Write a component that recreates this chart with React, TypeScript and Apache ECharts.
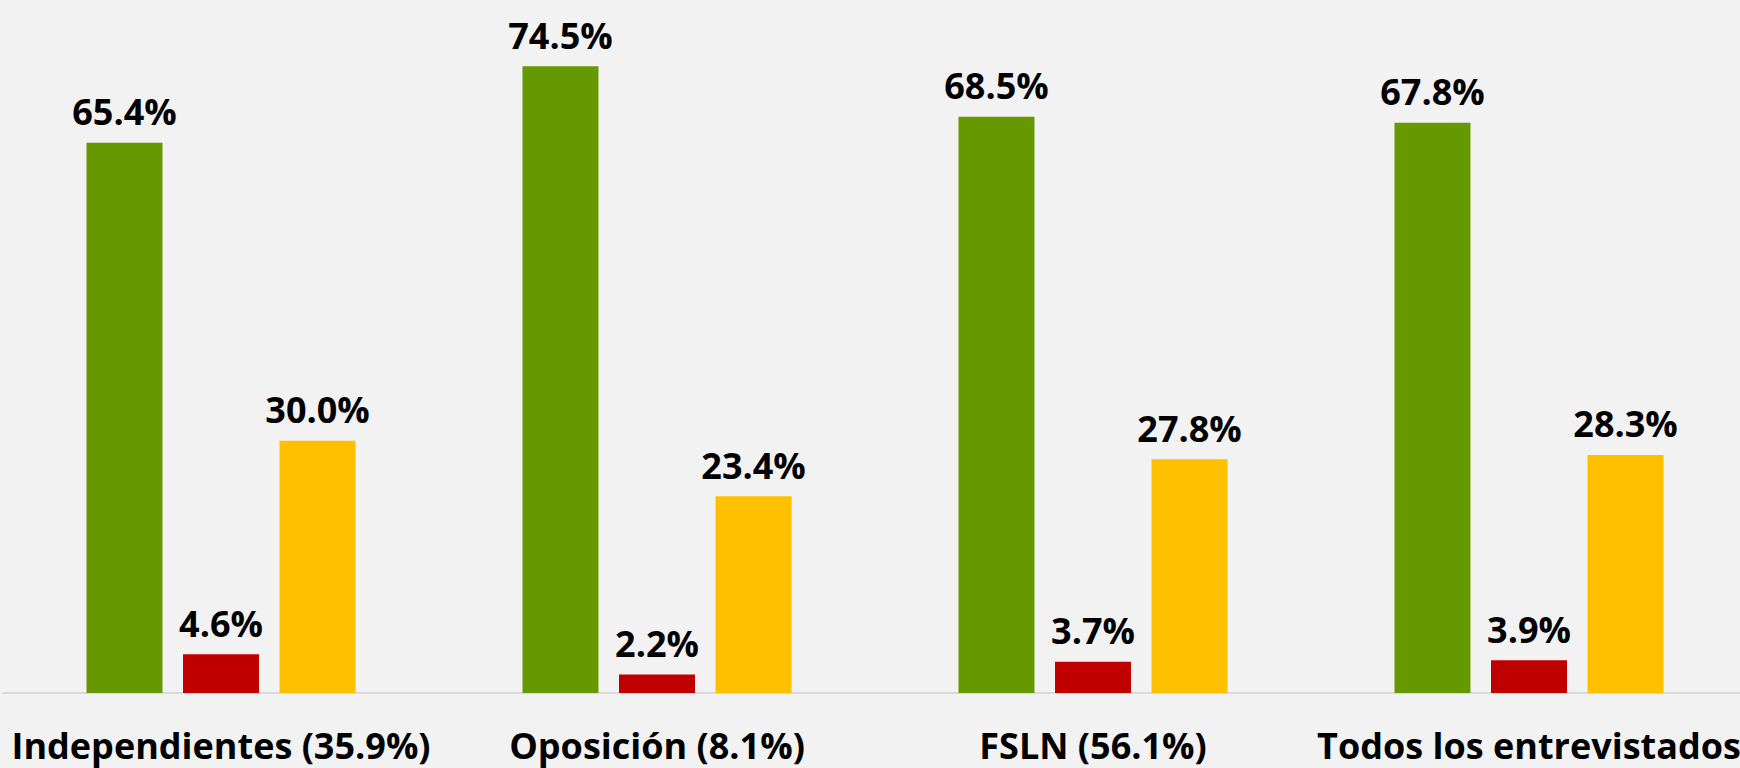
import React, { useEffect, useRef } from "react";
import * as echarts from "echarts";

const categories = ["Independientes (35.9%)", "Oposición (8.1%)", "FSLN (56.1%)", "Todos los entrevistados"];
const greenValues = [65.4, 74.5, 68.5, 67.8];
const redValues = [4.6, 2.2, 3.7, 3.9];
const yellowValues = [30.0, 23.4, 27.8, 28.3];
const seriesNames = ["Verde", "Rojo", "Amarillo"];
const seriesColors = ["#669900", "#C00000", "#FFC000"];

export default function App() {
  const ref = useRef<HTMLDivElement>(null);
  useEffect(() => {
    if (!ref.current) return;
    const chart = echarts.init(ref.current, null, { renderer: "svg" });
    const font = "'Open Sans', Lato, sans-serif";
    const valueSets = [greenValues, redValues, yellowValues];
    chart.setOption({
      animation: false,
      backgroundColor: "#f2f2f2",
      grid: { left: 3, right: 3, top: 20, bottom: 75, containLabel: false },
      xAxis: {
        type: "category",
        data: categories,
        axisLine: { show: true, lineStyle: { color: "#d9d9d9", width: 2 } },
        axisTick: { show: false },
        axisLabel: {
          interval: 0,
          margin: 34,
          color: "#000",
          fontFamily: font,
          fontWeight: "bold",
          fontSize: 36,
        },
      },
      yAxis: {
        type: "value",
        min: 0,
        max: 80,
        show: false,
        splitLine: { show: false },
      },
      series: valueSets.map((vals, i) => ({
        name: seriesNames[i],
        type: "bar",
        data: vals,
        barWidth: 76,
        barGap: "27%",
        itemStyle: { color: seriesColors[i] },
        label: {
          show: true,
          position: "top",
          distance: 13,
          color: "#000",
          fontFamily: font,
          fontWeight: "bold",
          fontSize: 36,
          formatter: (p: any) => p.value.toFixed(1) + "%",
        },
      })),
    });
    return () => chart.dispose();
  }, []);
  return (
    <div style={{ position: "fixed", left: 0, top: 0, width: 1740, height: 768, overflow: "hidden", background: "#f2f2f2" }}>
      <div ref={ref} style={{ width: 1750, height: 768 }} />
    </div>
  );
}
